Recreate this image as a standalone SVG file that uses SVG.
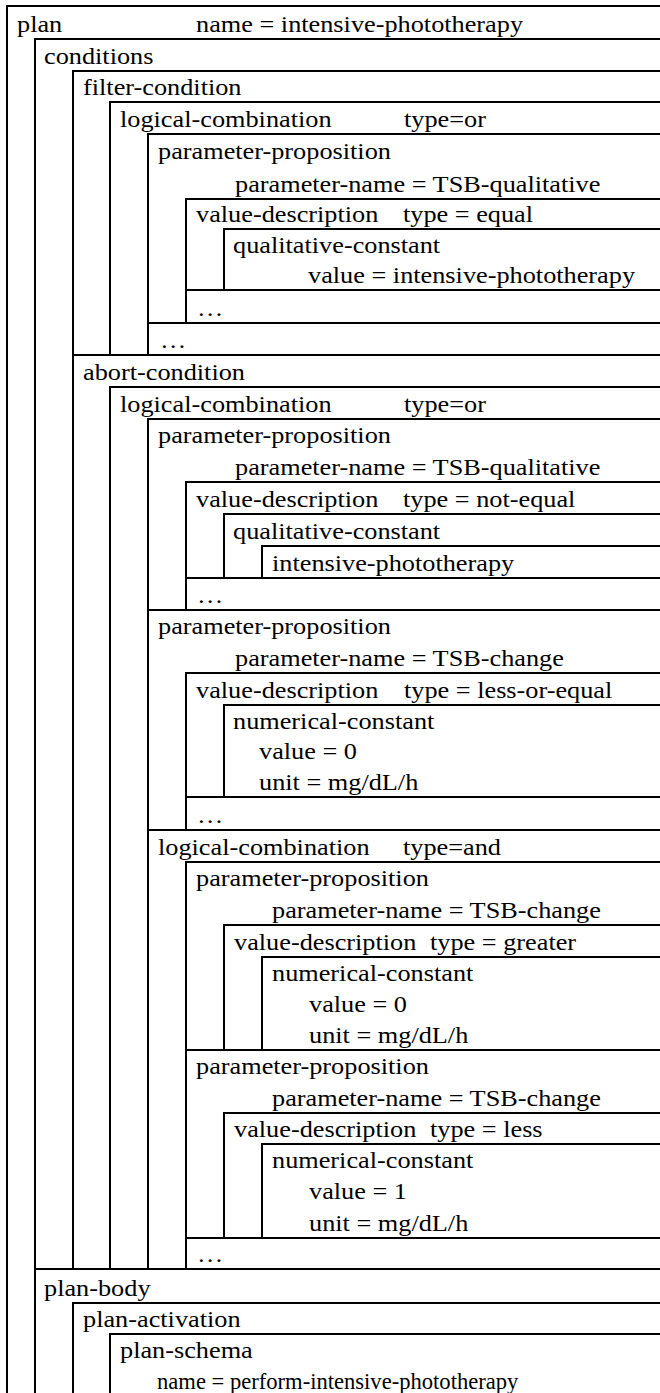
<svg xmlns="http://www.w3.org/2000/svg" width="660" height="1393" viewBox="0 0 660 1393">
<style>
.b{fill:none;stroke:#000;stroke-width:2}
text{font-family:"Liberation Serif","Times New Roman",serif;font-size:24px;fill:#000}
</style>
<rect width="660" height="1393" fill="#fff"/>
<g id="plan">
<path class="b" d="M661 6H7V1394"/>
<text transform="matrix(1.095 0 0 1 17 31.5)">plan</text>
<text transform="matrix(1.095 0 0 1 196 31.5)">name = intensive-phototherapy</text>
</g>
<g id="conditions">
<path class="b" d="M661 39H35V1269"/>
<text transform="matrix(1.095 0 0 1 44 63.5)">conditions</text>
</g>
<g id="filter-condition">
<path class="b" d="M661 71H73V355"/>
<text transform="matrix(1.095 0 0 1 83 94.5)">filter-condition</text>
</g>
<g id="fc-logical-combination">
<path class="b" d="M661 102H110V355"/>
<text transform="matrix(1.095 0 0 1 120 126.5)">logical-combination</text>
<text transform="matrix(1.095 0 0 1 404 126.5)">type=or</text>
</g>
<g id="fc-parameter-proposition">
<path class="b" d="M661 134H148V323"/>
<text transform="matrix(1.095 0 0 1 158 158.5)">parameter-proposition</text>
<text transform="matrix(1.095 0 0 1 235 191.5)">parameter-name = TSB-qualitative</text>
</g>
<g id="fc-value-description">
<path class="b" d="M661 199H186V323"/>
<text transform="matrix(1.095 0 0 1 196 221.5)">value-description</text>
<text transform="matrix(1.095 0 0 1 403 221.5)">type = equal</text>
</g>
<g id="fc-qualitative-constant">
<path class="b" d="M661 229H224V290"/>
<text transform="matrix(1.095 0 0 1 233 252.5)">qualitative-constant</text>
<text transform="matrix(1.095 0 0 1 308 282.5)">value = intensive-phototherapy</text>
</g>
<g id="fc-more-1">
<path class="b" d="M661 290H186V323"/>
<text transform="matrix(1.095 0 0 1 197 315.5)">…</text>
</g>
<g id="fc-more-2">
<path class="b" d="M661 323H148V355"/>
<text transform="matrix(1.095 0 0 1 160 347.5)">…</text>
</g>
<g id="abort-condition">
<path class="b" d="M661 355H73V1269"/>
<text transform="matrix(1.095 0 0 1 83 379.5)">abort-condition</text>
</g>
<g id="ac-logical-combination">
<path class="b" d="M661 387H110V1269"/>
<text transform="matrix(1.095 0 0 1 120 411.5)">logical-combination</text>
<text transform="matrix(1.095 0 0 1 404 411.5)">type=or</text>
</g>
<g id="ac-pp1">
<path class="b" d="M661 419H148V610"/>
<text transform="matrix(1.095 0 0 1 158 442.5)">parameter-proposition</text>
<text transform="matrix(1.095 0 0 1 235 474.5)">parameter-name = TSB-qualitative</text>
</g>
<g id="ac-vd1">
<path class="b" d="M661 482H186V610"/>
<text transform="matrix(1.095 0 0 1 196 506.5)">value-description</text>
<text transform="matrix(1.095 0 0 1 403 506.5)">type = not-equal</text>
</g>
<g id="ac-qc1">
<path class="b" d="M661 514H224V578"/>
<text transform="matrix(1.095 0 0 1 233 538.5)">qualitative-constant</text>
</g>
<g id="ac-const1">
<path class="b" d="M661 546H262V578"/>
<text transform="matrix(1.095 0 0 1 272 570.5)">intensive-phototherapy</text>
</g>
<g id="ac-more-1">
<path class="b" d="M661 578H186V610"/>
<text transform="matrix(1.095 0 0 1 197 602.5)">…</text>
</g>
<g id="ac-pp2">
<path class="b" d="M661 610H148V830"/>
<text transform="matrix(1.095 0 0 1 158 633.5)">parameter-proposition</text>
<text transform="matrix(1.095 0 0 1 235 665.5)">parameter-name = TSB-change</text>
</g>
<g id="ac-vd2">
<path class="b" d="M661 673H186V830"/>
<text transform="matrix(1.095 0 0 1 196 697.5)">value-description</text>
<text transform="matrix(1.095 0 0 1 404 697.5)">type = less-or-equal</text>
</g>
<g id="ac-nc2">
<path class="b" d="M661 705H224V797"/>
<text transform="matrix(1.095 0 0 1 233 728.5)">numerical-constant</text>
<text transform="matrix(1.095 0 0 1 259 758.5)">value = 0</text>
<text transform="matrix(1.095 0 0 1 259 789.5)">unit = mg/dL/h</text>
</g>
<g id="ac-more-2">
<path class="b" d="M661 797H186V830"/>
<text transform="matrix(1.095 0 0 1 197 822.5)">…</text>
</g>
<g id="ac-lc-and">
<path class="b" d="M661 830H148V1269"/>
<text transform="matrix(1.095 0 0 1 158 854.5)">logical-combination</text>
<text transform="matrix(1.095 0 0 1 403 854.5)">type=and</text>
</g>
<g id="ac-pp3">
<path class="b" d="M661 862H186V1050"/>
<text transform="matrix(1.095 0 0 1 196 885.5)">parameter-proposition</text>
<text transform="matrix(1.095 0 0 1 272 917.5)">parameter-name = TSB-change</text>
</g>
<g id="ac-vd3">
<path class="b" d="M661 925H224V1050"/>
<text transform="matrix(1.095 0 0 1 234 949.5)">value-description</text>
<text transform="matrix(1.095 0 0 1 430 949.5)">type = greater</text>
</g>
<g id="ac-nc3">
<path class="b" d="M661 957H262V1050"/>
<text transform="matrix(1.095 0 0 1 272 980.5)">numerical-constant</text>
<text transform="matrix(1.095 0 0 1 309 1011.5)">value = 0</text>
<text transform="matrix(1.095 0 0 1 309 1042.5)">unit = mg/dL/h</text>
</g>
<g id="ac-pp4">
<path class="b" d="M661 1050H186V1238"/>
<text transform="matrix(1.095 0 0 1 196 1073.5)">parameter-proposition</text>
<text transform="matrix(1.095 0 0 1 272 1105.5)">parameter-name = TSB-change</text>
</g>
<g id="ac-vd4">
<path class="b" d="M661 1113H224V1238"/>
<text transform="matrix(1.095 0 0 1 234 1136.5)">value-description</text>
<text transform="matrix(1.095 0 0 1 430 1136.5)">type = less</text>
</g>
<g id="ac-nc4">
<path class="b" d="M661 1144H262V1238"/>
<text transform="matrix(1.095 0 0 1 272 1167.5)">numerical-constant</text>
<text transform="matrix(1.095 0 0 1 309 1198.5)">value = 1</text>
<text transform="matrix(1.095 0 0 1 309 1230.5)">unit = mg/dL/h</text>
</g>
<g id="ac-more-3">
<path class="b" d="M661 1238H186V1269"/>
<text transform="matrix(1.095 0 0 1 197 1261.5)">…</text>
</g>
<g id="plan-body">
<path class="b" d="M661 1269H35V1394"/>
<text transform="matrix(1.095 0 0 1 44 1295.5)">plan-body</text>
</g>
<g id="plan-activation">
<path class="b" d="M661 1303H73V1394"/>
<text transform="matrix(1.095 0 0 1 83 1326.5)">plan-activation</text>
</g>
<g id="plan-schema">
<path class="b" d="M661 1334H110V1394"/>
<text transform="matrix(1.095 0 0 1 120 1357.5)">plan-schema</text>
<text transform="matrix(1.095 0 0 1 157 1388.5)" textLength="330" lengthAdjust="spacingAndGlyphs">name = perform-intensive-phototherapy</text>
</g>
<g id="connectors"/>
</svg>
